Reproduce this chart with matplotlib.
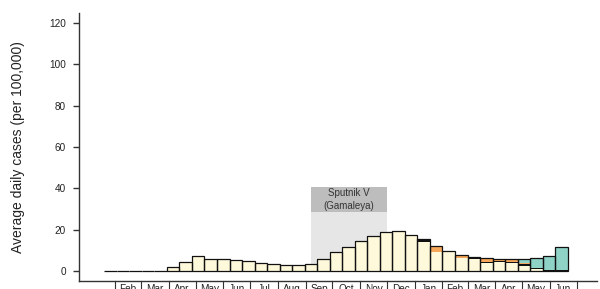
import matplotlib
matplotlib.use("Agg")
import matplotlib.pyplot as plt
import matplotlib.dates as mdates
from matplotlib.patches import Rectangle
import pandas as pd
import numpy as np

plt.rcParams['font.family'] = ['Liberation Sans', 'DejaVu Sans']

# ---- data ----
first_bin = "2020-01-20"
bin_days = 14
other = [0, 0, 0, 0, 0.3, 1.9, 4.3, 7.1, 5.8, 5.7, 5.2, 4.5, 3.9, 3.2, 3.0, 3.0, 3.4, 5.5,
         8.9, 11.3, 14.2, 16.6, 18.7, 19.2, 17.1, 14.4, 9.2, 9.3, 6.3, 5.9, 3.9, 4.6, 4.2,
         2.8, 1.0, 0.2, 0.2]
dark = [0, 0, 0, 0, 0, 0.1, 0.3, 0.3, 0.3, 0.3, 0.3, 0.3, 0.3, 0.2, 0.2, 0.2, 0.3, 0.3,
        0.3, 0.3, 0.3, 0.3, 0.3, 0.3, 0.3, 0.7, 0.3, 0.5, 0.3, 0.5, 0.4, 0.4, 0.4,
        0.6, 0.7, 0.6, 0.5]
alpha_v = [0] * 25 + [0.5, 2.7, 0, 1.1, 0.4, 2.0, 1.0, 1.2, 0.8, 0, 0, 0]
delta_v = [0] * 32 + [0, 1.6, 4.6, 6.6, 11.2]

vaccine_label = "Sputnik V\n(Gamaleya)"
vaccine_start = "2020-09-07"
vaccine_end = "2020-12-01"
vaccine_low, vaccine_mid, vaccine_high = 0, 28.4, 40.9

month_start = "2020-02-01"
month_end = "2021-07-01"
y_ticks = [0, 20, 40, 60, 80, 100, 120]
y_label = "Average daily cases (per 100,000)"

# ---- figure ----
fig = plt.figure(figsize=(6, 2.89), dpi=100)
ax = fig.add_axes([79 / 600, 1 - 281.3 / 289, (597 - 79) / 600, (281.3 - 12.7) / 289])

n = len(other)
starts = pd.date_range(first_bin, periods=n, freq=f"{bin_days}D")
x = mdates.date2num(starts)

cols = ["#FFF9DC", "#111111", "#F7A75A", "#8ED3C6"]
series = [other, dark, alpha_v, delta_v]
bottom = np.zeros(n)
for vals, c in zip(series, cols):
    v = np.array(vals, dtype=float)
    ax.bar(x, v, width=bin_days, bottom=bottom, align='edge', color=c,
           linewidth=0, zorder=2)
    bottom += v
ax.bar(x, bottom, width=bin_days, align='edge', facecolor='none',
       edgecolor='#111111', linewidth=0.9, zorder=3)

# vaccine region
vs = mdates.date2num(pd.Timestamp(vaccine_start))
ve = mdates.date2num(pd.Timestamp(vaccine_end))
ax.add_patch(Rectangle((vs, vaccine_low), ve - vs, vaccine_mid - vaccine_low,
                       facecolor='#E6E6E6', edgecolor='none', zorder=0))
ax.add_patch(Rectangle((vs, vaccine_mid), ve - vs, vaccine_high - vaccine_mid,
                       facecolor='#BDBDBD', edgecolor='none', zorder=0))
ax.text((vs + ve) / 2, (vaccine_mid + vaccine_high) / 2, vaccine_label,
        ha='center', va='center', fontsize=7, color='#333333', linespacing=1.3)

# axes limits
feb1 = mdates.date2num(pd.Timestamp(month_start))
ax.set_xlim(feb1 - 40.2, feb1 + 538.7)
ax.set_ylim(-4.8, 124.8)

ax.set_yticks(y_ticks)
ax.tick_params(axis='y', length=4.5, width=1, pad=5, labelsize=7.2,
               colors='#333333', labelcolor='#222222')
ax.set_xticks([])
for s in ['top', 'right']:
    ax.spines[s].set_visible(False)
for s in ['left', 'bottom']:
    ax.spines[s].set_color('#333333')
    ax.spines[s].set_linewidth(1.0)

# month boxes
months = pd.date_range(month_start, month_end, freq='MS')
mnum = mdates.date2num(months)
trans = ax.get_xaxis_transform()
for m in mnum:
    ax.plot([m, m], [0, -0.06], transform=trans, color='#333333',
            linewidth=0.8, clip_on=False)
for a, b, d in zip(mnum[:-1], mnum[1:], months[:-1]):
    ax.annotate(d.strftime('%b'), xy=((a + b) / 2, 0), xycoords=trans,
                xytext=(0, -1.6), textcoords='offset points',
                ha='center', va='top', fontsize=7.2, color='#222222',
                annotation_clip=False)

fig.text(18 / 600, 1 - 147 / 289, y_label, rotation=90, ha='center',
         va='center', fontsize=10, color='#222222')

fig.savefig("out.png", dpi=100)
